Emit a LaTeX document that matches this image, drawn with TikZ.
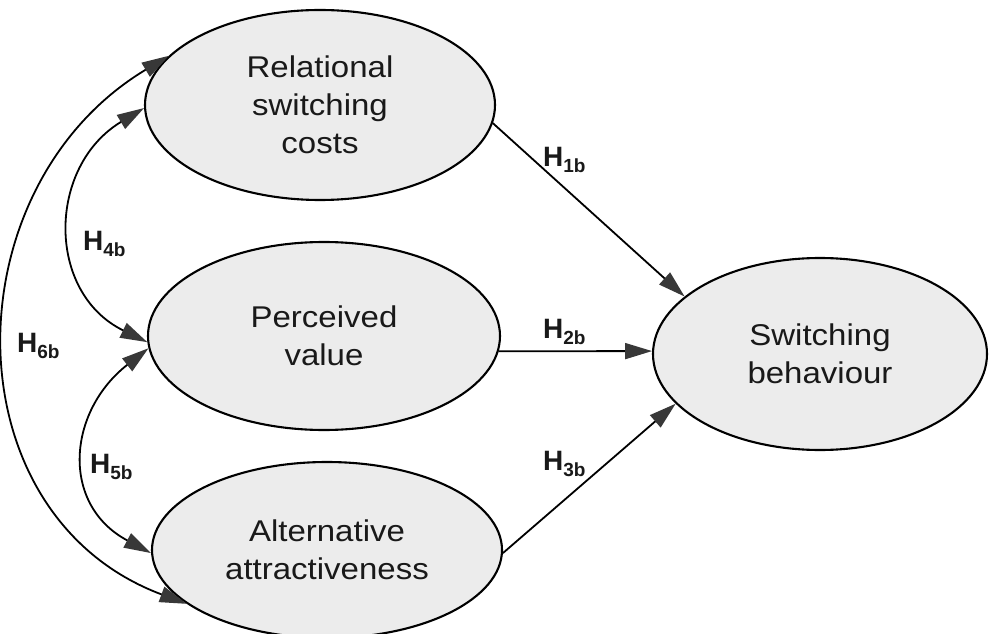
\documentclass[tikz,border=0pt]{standalone}
\usepackage{fontspec}
\setmainfont{Liberation Sans}
\newfontfamily\ovalfont{Liberation Sans}[FakeStretch=1.1]
\usetikzlibrary{shapes.geometric, arrows.meta, positioning}
\newcommand{\hsub}[1]{H\raisebox{-6pt}{\fontsize{19}{19}\selectfont #1}}
\tikzset{
    construct/.style={ellipse, draw=black, fill=gray!15, line width=2.1pt, inner sep=0pt, align=center, text=black!90, font=\ovalfont\fontsize{30}{38}\selectfont},
    arrow/.style={-{Triangle[length=27pt, width=16pt, color=black!78]}, line width=1.8pt},
    dblarrow/.style={{Triangle[length=27pt, width=16pt, color=black!78]}-{Triangle[length=27pt, width=16pt, color=black!78]}, line width=1.8pt},
    hyp/.style={anchor=base west, inner sep=0pt, text=black!90, font=\fontsize{28}{28}\selectfont\bfseries},
}

\begin{document}
\begin{tikzpicture}[x=1pt, y=1pt]
        \path[use as bounding box, fill=white] (0,0) rectangle (990,633);

        % Antecedents
        \node[construct, minimum width=350pt, minimum height=190pt] (rel) at (320,528) {Relational\\switching\\costs};
        \node[construct, minimum width=352pt, minimum height=188pt] (pv) at (324,297) {Perceived\\value};
        \node[construct, minimum width=350pt, minimum height=176pt] (alt) at (327,83) {Alternative\\attractiveness};

        % Outcome
        \node[construct, minimum width=334pt, minimum height=192pt] (sb) at (820,279) {Switching\\behaviour};

        % Direct paths
        \draw[arrow] (rel.354) -- (sb.157);
        \draw[arrow] (pv.355) -- (sb.179);
        \draw[arrow] (alt.359) -- (sb.199);

        % Correlations
        \draw[dblarrow] (rel.181) .. controls +(211:113pt) and +(154:113pt) .. (pv.182);
        \draw[dblarrow] (pv.184) .. controls +(218:103pt) and +(152:103pt) .. (alt.181);
        \draw[dblarrow] (rel.162) .. controls +(211:255pt) and +(159.5:255pt) .. (alt.201);

        % Hypotheses
        \node[hyp] (h1b) at (543,466) {\hsub{1b}};
        \node[hyp] (h2b) at (543,295) {\hsub{2b}};
        \node[hyp] (h3b) at (543,163) {\hsub{3b}};
        \node[hyp] (h4b) at (83,383) {\hsub{4b}};
        \node[hyp] (h5b) at (90,160) {\hsub{5b}};
        \node[hyp] (h6b) at (17,281) {\hsub{6b}};
\end{tikzpicture}
\end{document}
